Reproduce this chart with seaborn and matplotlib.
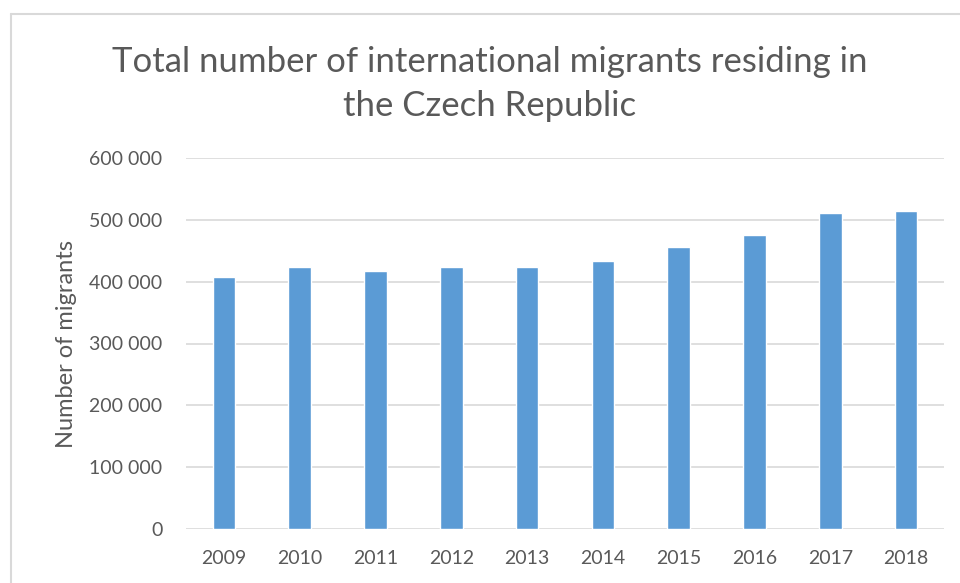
import matplotlib
matplotlib.use("Agg")
import matplotlib.pyplot as plt
import matplotlib.ticker as mticker
import seaborn as sns
import pandas as pd

# Foreign residents in the Czech Republic, end of year
years = ["2009", "2010", "2011", "2012", "2013", "2014", "2015", "2016", "2017", "2018"]
migrants = [407000, 423000, 418000, 423000, 423000, 434000, 456000, 475000, 511000, 514000]
y_ticks = [0, 100000, 200000, 300000, 400000, 500000, 600000]

df = pd.DataFrame({"year": years, "migrants": migrants})

sns.set_theme(style="white")
plt.rcParams["font.family"] = ["Lato", "DejaVu Sans"]

TEXT = "#595959"
GRID = "#d9d9d9"
BAR = "#5b9bd5"

fig = plt.figure(figsize=(9.6, 5.83), dpi=100)
ax = fig.add_axes([186 / 960, 1 - 529 / 583, (944 - 186) / 960, (529 - 158) / 583])

sns.barplot(data=df, x="year", y="migrants", color=BAR, width=0.30,
            saturation=1, ax=ax, zorder=3)

ax.set_ylim(0, 600000)
ax.set_xlim(-0.5, len(years) - 0.5)
ax.set_yticks(y_ticks)
ax.yaxis.set_major_formatter(
    mticker.FuncFormatter(lambda v, _: f"{int(v):,}".replace(",", " ")))
ax.grid(axis="y", color=GRID, linewidth=1.2, zorder=0)
ax.grid(axis="x", visible=False)
for s in ax.spines.values():
    s.set_visible(False)
ax.tick_params(axis="both", length=0, labelsize=14, labelcolor=TEXT)
ax.tick_params(axis="y", pad=17)
ax.tick_params(axis="x", pad=15)
ax.set_xlabel("")
ax.set_ylabel("Number of migrants", fontsize=17, color=TEXT, labelpad=9)

fig.text(490 / 960, 1 - 46 / 583,
         "Total number of international migrants residing in\nthe Czech Republic",
         ha="center", va="top", multialignment="center",
         fontsize=25, color=TEXT, linespacing=1.48)

# light chart-area frame
fig.add_artist(plt.Line2D([11 / 960, 11 / 960], [0, 1 - 14 / 583],
                          transform=fig.transFigure, color=GRID, linewidth=1.5))
fig.add_artist(plt.Line2D([11 / 960, 1], [1 - 14 / 583, 1 - 14 / 583],
                          transform=fig.transFigure, color=GRID, linewidth=1.5))

fig.savefig("out.png", dpi=100)
